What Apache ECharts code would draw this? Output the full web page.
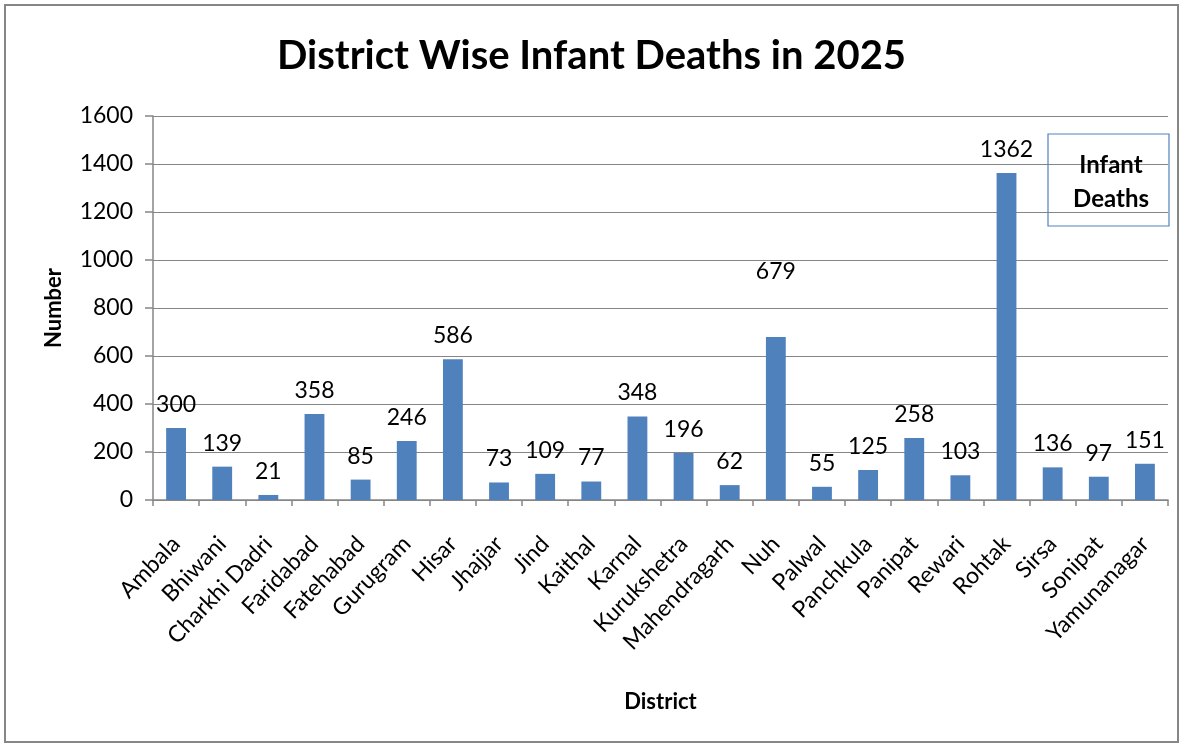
<!DOCTYPE html>
<html><head><meta charset="utf-8">
<script src="https://cdn.jsdelivr.net/npm/echarts@6/dist/echarts.min.js"></script>
<style>html,body{margin:0;padding:0;background:#fff}#c{width:1183px;height:747px}</style>
</head><body><div id="c"></div>
<script>
const districts = ["Ambala","Bhiwani","Charkhi Dadri","Faridabad","Fatehabad","Gurugram","Hisar","Jhajjar","Jind","Kaithal","Karnal","Kurukshetra","Mahendragarh","Nuh","Palwal","Panchkula","Panipat","Rewari","Rohtak","Sirsa","Sonipat","Yamunanagar"];
const infantDeaths = [300,139,21,358,85,246,586,73,109,77,348,196,62,679,55,125,258,103,1362,136,97,151];
const seriesName = "Infant Deaths";
const titleText = "District Wise Infant Deaths in 2025";

const font = "Lato, 'Open Sans', sans-serif";
const chart = echarts.init(document.getElementById('c'));
chart.setOption({
  animation: false,
  backgroundColor: '#fff',
  textStyle: { fontFamily: font },
  title: { text: titleText, left: 'center', top: 31,
    textStyle: { fontSize: 40, fontWeight: 'bold', color: '#000', fontFamily: font } },
  legend: { show: true, right: 14, top: 134, icon: 'none', itemWidth: 0, itemGap: 0,
    borderColor: '#4F81BD', borderWidth: 1.2, padding: [19, 16, 15, 16],
    formatter: () => '{a|Infant}\n{a|Deaths}',
    textStyle: { fontSize: 24, fontWeight: 'bold', color: '#000', fontFamily: font,
      rich: { a: { fontSize: 24, fontWeight: 'bold', color: '#000', width: 84, align: 'center', lineHeight: 34, fontFamily: font } } },
    data: [seriesName] },
  grid: { left: 153, right: 15, top: 116, bottom: 247, containLabel: false },
  xAxis: { type: 'category', data: districts, name: 'District', nameLocation: 'middle', nameGap: 191,
    nameTextStyle: { fontSize: 22, fontWeight: 'bold', color: '#000', fontFamily: font },
    axisLine: { lineStyle: { color: '#868686', width: 1.5 } },
    axisTick: { show: true, length: 6, lineStyle: { color: '#868686', width: 1.5 } },
    axisLabel: { rotate: 46, fontSize: 23, color: '#000', margin: 40, fontFamily: font, interval: 0 } },
  yAxis: { type: 'value', min: 0, max: 1600, interval: 200, name: 'Number', nameLocation: 'middle', nameGap: 88,
    nameTextStyle: { fontSize: 22, fontWeight: 'bold', color: '#000', fontFamily: font },
    axisLine: { show: true, lineStyle: { color: '#868686', width: 1.5 } },
    axisTick: { show: true, length: 8, lineStyle: { color: '#868686', width: 1.5 } },
    splitLine: { lineStyle: { color: '#868686', width: 1.2 } },
    axisLabel: { fontSize: 23, color: '#000', margin: 20, fontFamily: font, formatter: v => String(v) } },
  series: [{ name: seriesName, type: 'bar', barWidth: '43%',
    data: infantDeaths.map((v, i) => districts[i] === 'Nuh' ? { value: v, label: { distance: 54 } } : v),
    itemStyle: { color: '#4F81BD' },
    label: { show: true, position: 'top', distance: 12, fontSize: 23, color: '#000', fontFamily: font } }],
  graphic: [{ type: 'rect', shape: { x: 5, y: 5, width: 1173, height: 737 }, silent: true,
    style: { fill: 'none', stroke: '#868686', lineWidth: 2 } }]
});
</script></body></html>
